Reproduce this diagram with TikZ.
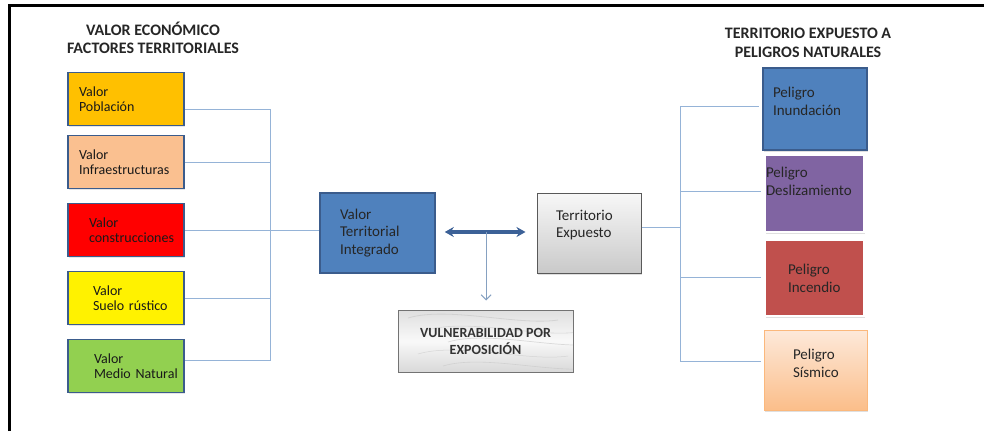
\documentclass[tikz,border=0pt]{standalone}
\usepackage{fontspec}
\setmainfont{Carlito}
\usetikzlibrary{arrows.meta,shadows,calc}
\definecolor{azulborde}{HTML}{3B5C8C}
\definecolor{azulcaja}{HTML}{4F81BD}
\definecolor{azullinea}{HTML}{95B3D7}
\definecolor{azulflecha}{HTML}{3C6197}
\definecolor{oro}{HTML}{FFC000}
\definecolor{salmon}{HTML}{FAC090}
\definecolor{verde}{HTML}{92D050}
\definecolor{morado}{HTML}{8064A2}
\definecolor{rojizo}{HTML}{C0504D}
\definecolor{melocoton}{HTML}{FBBE8A}
\definecolor{melocotonclaro}{HTML}{FDE9DA}

\begin{document}
\begin{tikzpicture}[x=1pt, y=-1pt]
  \tikzstyle{valor}=[rectangle, draw=azulborde, line width=1.6pt, minimum width=116pt, minimum height=53pt, align=left, text=black!90, font=\fontsize{14}{15.5}\selectfont, drop shadow={opacity=0.2, shadow xshift=0.8pt, shadow yshift=-1pt}]
  \tikzstyle{peligro}=[rectangle, line width=1.5pt, align=left, text=black!85, font=\fontsize{15}{18}\selectfont, drop shadow={opacity=0.25, shadow xshift=1pt, shadow yshift=-1.5pt}]
  \tikzstyle{central}=[rectangle, minimum height=80pt, align=left, text=black!85, font=\fontsize{15}{17.5}\selectfont]
  \tikzstyle{titulo}=[align=center, font=\fontsize{16}{18.5}\selectfont\bfseries, text=black!85]
  \tikzstyle{linea}=[draw=azullinea, line width=1pt]
  \tikzstyle{marmol}=[path picture={
      \foreach \a/\b/\c in {0/10/0.8, 1/30/0.6, 2/50/0.7, 3/20/0.5, 4/45/0.6} {
        \draw[gray!45, line width=\c pt, opacity=0.6]
          ([xshift=\b pt, yshift=-8pt-12*\a pt]path picture bounding box.north west)
          .. controls +(40pt,12pt) and +(-40pt,-6pt) .. +(150pt,-2pt);
      }}]

  \useasboundingbox (0,0) rectangle (984,431);
  % Marco
  \draw[line width=2.5pt] (9.5,431) -- (9.5,5.5) -- (984,5.5);

  % Titulos
  \node[titulo] (tizq) at (153,38) {VALOR ECONÓMICO\\FACTORES TERRITORIALES};
  \node[titulo] (tder) at (808,43) {TERRITORIO EXPUESTO A\\PELIGROS NATURALES};

  % Factores territoriales
  \node[valor, fill=oro, inner xsep=11pt, text width=94pt] (pob) at (126,99) {Valor\\Población};
  \node[valor, fill=salmon, inner xsep=11pt, text width=94pt] (inf) at (126,162) {Valor\\Infraestructuras};
  \node[valor, fill=red, inner xsep=21pt, text width=74pt] (con) at (126,230) {Valor\\\mbox{construcciones}};
  \node[valor, fill=yellow, inner xsep=25pt, text width=66pt] (sue) at (126,298) {Valor\\\mbox{Suelo rústico}};
  \node[valor, fill=verde, inner xsep=26pt, text width=64pt] (med) at (126,366) {Valor\\\mbox{Medio Natural}};

  % Nodos centrales
  \node[central, draw=azulborde, line width=1.5pt, fill=azulcaja, minimum width=115pt, inner xsep=20pt, text width=75pt] (vti) at (377.5,233) {Valor\\Territorial\\Integrado};
  \node[central, draw=black!65, line width=1pt, top color=gray!6, bottom color=gray!42, minimum width=104pt, inner xsep=19pt, text width=66pt, drop shadow={opacity=0.25, shadow xshift=1pt, shadow yshift=-1.5pt}] (ter) at (589,233) {Territorio\\Expuesto\vspace{16pt}};
  \node[rectangle, marmol, draw=black!55, line width=1pt, top color=gray!25, bottom color=gray!30, middle color=gray!5, minimum width=175pt, minimum height=62pt, align=center, text=black!80, font=\fontsize{14}{17}\selectfont\bfseries] (vul) at (485.5,341) {VULNERABILIDAD POR\\EXPOSICIÓN};

  % Peligros naturales
  \node[peligro, draw=azulborde, fill=azulcaja, minimum width=104pt, minimum height=82pt, inner xsep=10pt, text width=84pt] (inu) at (815,109) {Peligro\\Inundación\vspace{16pt}};
  \node[peligro, draw=white, line width=2.5pt, fill=morado, minimum width=99pt, minimum height=77pt, inner xsep=1pt, text width=97pt] (des) at (814.5,193.5) {Peligro\\Deslizamiento\vspace{25pt}};
  \node[peligro, draw=white, line width=2.5pt, fill=rojizo, minimum width=99pt, minimum height=76pt, inner xsep=23pt, text width=53pt] (inc) at (814.5,278) {Peligro\\Incendio};
  \node[peligro, draw=melocoton!90!orange, line width=1pt, top color=melocotonclaro, bottom color=melocoton, minimum width=103pt, minimum height=80pt, inner xsep=29pt, text width=45pt] (sis) at (815.5,370) {Peligro\\Sísmico\vspace{14pt}};

  % Conexiones
  \coordinate (barraizq) at (270,230);
  \coordinate (barrader) at (680,227);
  \draw[linea] ([yshift=-10pt]pob.east) -| (barraizq);
  \draw[linea] (inf.east) -| (barraizq);
  \draw[linea] (sue.east) -| (barraizq);
  \draw[linea] ([yshift=6pt]med.east) -| (barraizq);
  \draw[linea] (con.east) -- (con.east -| vti.west);
  \draw[linea] ([yshift=6pt]ter.east) -- (barrader);
  \draw[linea, shorten >=3pt] (barrader) |- ([yshift=3pt]inu.west);
  \draw[linea, shorten >=3pt] (barrader) |- ([yshift=2.5pt]des.west);
  \draw[linea, shorten >=3pt] (barrader) |- ([yshift=1pt]inc.west);
  \draw[linea, shorten >=3pt] (barrader) |- ([yshift=9pt]sis.west);

  \coordinate (medio) at ($(vti.east)!0.5!(vti.east -| ter.west)$);
  \draw[azulflecha, line width=3.5pt, {Stealth[length=9pt,width=10pt]}-{Stealth[length=9pt,width=10pt]}, shorten <=9pt, shorten >=11pt] ([yshift=1pt]vti.east) -- ([yshift=1pt]vti.east -| ter.west);
  \draw[draw=azullinea!90!black, line width=1pt, -{Straight Barb[length=5pt,width=10pt]}, shorten >=9pt] ([yshift=1pt]medio) -- (medio |- vul.north);
\end{tikzpicture}
\end{document}
